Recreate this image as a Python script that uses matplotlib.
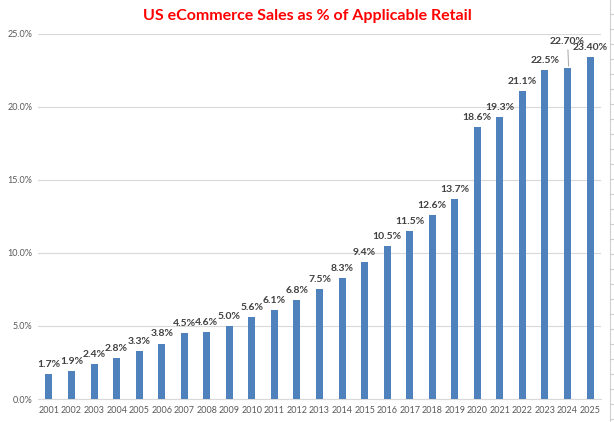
import numpy as np
import matplotlib
matplotlib.use("Agg")
import matplotlib.pyplot as plt
from matplotlib.lines import Line2D
from matplotlib.ticker import FuncFormatter

# data
years = [str(y) for y in range(2001, 2026)]
share = [1.7, 1.9, 2.4, 2.8, 3.3, 3.8, 4.5, 4.6, 5.0, 5.6, 6.1, 6.8, 7.5, 8.3,
         9.4, 10.5, 11.5, 12.6, 13.7, 18.6, 19.3, 21.1, 22.5, 22.70, 23.40]
labels = ["%.1f%%" % v for v in share[:-2]] + ["22.70%", "23.40%"]

plt.rcParams['font.family'] = ['Lato', 'DejaVu Sans']

fig = plt.figure(figsize=(6.14, 4.22), dpi=100)
ax = fig.add_axes([0.0614, 0.0545, 0.918, 0.865])

x = np.arange(len(years))
ax.bar(x, share, width=0.31, color='#4F81BD', zorder=3)

ax.set_xlim(-0.5, len(years) - 0.5)
ax.set_ylim(0, 25)
ax.set_yticks(np.arange(0, 25.1, 5))
ax.yaxis.set_major_formatter(FuncFormatter(lambda v, p: "%.1f%%" % v))
ax.set_xticks(x)
ax.set_xticklabels(years)
ax.tick_params(axis='both', length=0, labelsize=6.5, labelcolor='#595959')
ax.tick_params(axis='x', pad=5)
ax.tick_params(axis='y', pad=4)
ax.grid(axis='y', color='#D9D9D9', linewidth=0.8, zorder=0)
for s in ['top', 'right', 'left']:
    ax.spines[s].set_visible(False)
ax.spines['bottom'].set_color('#D9D9D9')

# data labels
for i, (v, lab) in enumerate(zip(share, labels)):
    if lab == "22.70%":
        ax.annotate(lab, xy=(i + 0.05, v), xytext=(i, v + 1.5), ha='center', va='bottom',
                    fontsize=7.5, fontweight='bold', color='#404040',
                    arrowprops=dict(arrowstyle='-', color='#A6A6A6', lw=0.7,
                                    shrinkA=1, shrinkB=1))
    else:
        ax.text(i, v + 0.35, lab, ha='center', va='bottom', fontsize=7.5,
                fontweight='bold', color='#404040')

fig.text(0.5, 0.962, "US eCommerce Sales as % of Applicable Retail", ha='center',
         va='center', fontsize=11.5, fontweight='bold', color='#FF0000')

# sheet edge on the right
fig.add_artist(Line2D([610 / 614, 610 / 614], [0, 1], color='#D0D0D0', lw=0.8))
for yy in range(14, 422, 15):
    fig.add_artist(Line2D([610 / 614, 1], [1 - yy / 422] * 2, color='#D0D0D0', lw=0.8))

fig.savefig("out.png", dpi=100)
